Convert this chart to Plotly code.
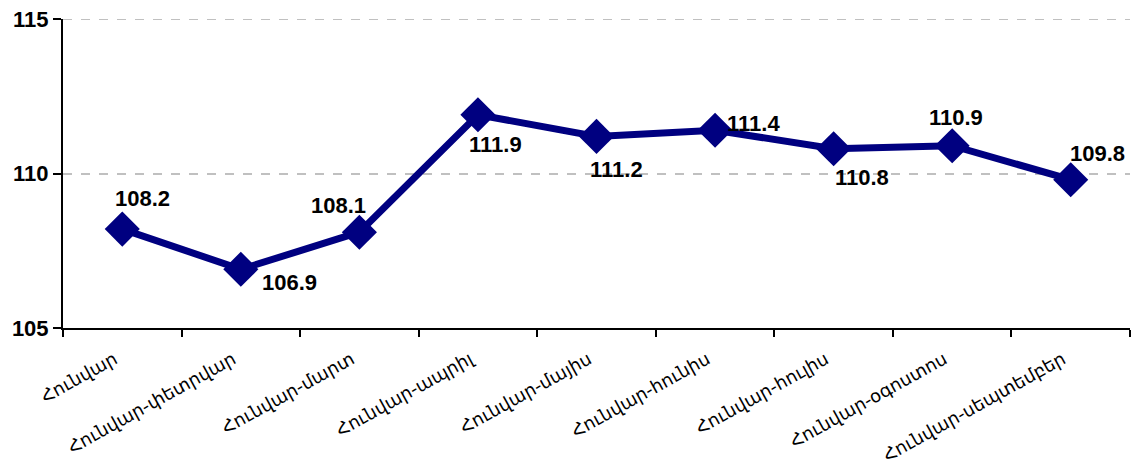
import plotly.graph_objects as go

categories = ["Հունվար", "Հունվար-փետրվար", "Հունվար-մարտ", "Հունվար-ապրիլ",
              "Հունվար-մայիս", "Հունվար-հունիս", "Հունվար-հուլիս",
              "Հունվար-օգոստոս", "Հունվար-սեպտեմբեր"]
values = [108.2, 106.9, 108.1, 111.9, 111.2, 111.4, 110.8, 110.9, 109.8]
label_dx = [20, 49, -21, 18, 20, 38, 28, 4, 27]
label_dy = [31, -13, 27, -30, -33, 7, -29, 28, 26]

navy = "#000080"
fig = go.Figure()
fig.add_trace(go.Scatter(
    x=categories, y=values, mode="lines+markers",
    line=dict(color=navy, width=7),
    marker=dict(symbol="diamond", size=27, color=navy),
    hoverinfo="skip", showlegend=False, cliponaxis=False,
))
for c, v, dx, dy in zip(categories, values, label_dx, label_dy):
    fig.add_annotation(x=c, y=v, text=f"{v:.1f}", showarrow=False,
                       xshift=dx, yshift=dy,
                       font=dict(family="Liberation Sans, Arial", size=22, color="black", weight="bold"))

fig.add_shape(type="line", xref="paper", x0=0, x1=1, yref="y", y0=115, y1=115,
              line=dict(color="#c0c0c0", width=2, dash="dash"), layer="below")

fig.update_layout(
    width=1131, height=474,
    margin=dict(l=63, r=1, t=19, b=146),
    plot_bgcolor="white", paper_bgcolor="white",
    xaxis=dict(
        type="category", tickson="boundaries", ticks="outside", ticklen=7,
        tickcolor="black", tickwidth=2, showline=True, linecolor="black", linewidth=2,
        showgrid=False, tickangle=-29, automargin=False,
        ticklabelstandoff=12, ticklabelshift=-8,
        tickfont=dict(family="DejaVu Sans, Liberation Sans", size=18, color="black"),
        range=[-0.5, 8.5],
    ),
    yaxis=dict(
        range=[105, 115], tickvals=[105, 110, 115], ticks="outside", ticklen=8,
        tickcolor="black", tickwidth=2, showline=True, linecolor="black", linewidth=2,
        showgrid=True, gridcolor="#c0c0c0", griddash="dash", gridwidth=2,
        zeroline=False, automargin=False,
        tickfont=dict(family="Liberation Sans, Arial", size=22, color="black", weight="bold"),
    ),
)
fig.write_html("out.html", config={"displayModeBar": False},
               post_script="document.body.style.margin='0';document.body.style.overflow='hidden';")
